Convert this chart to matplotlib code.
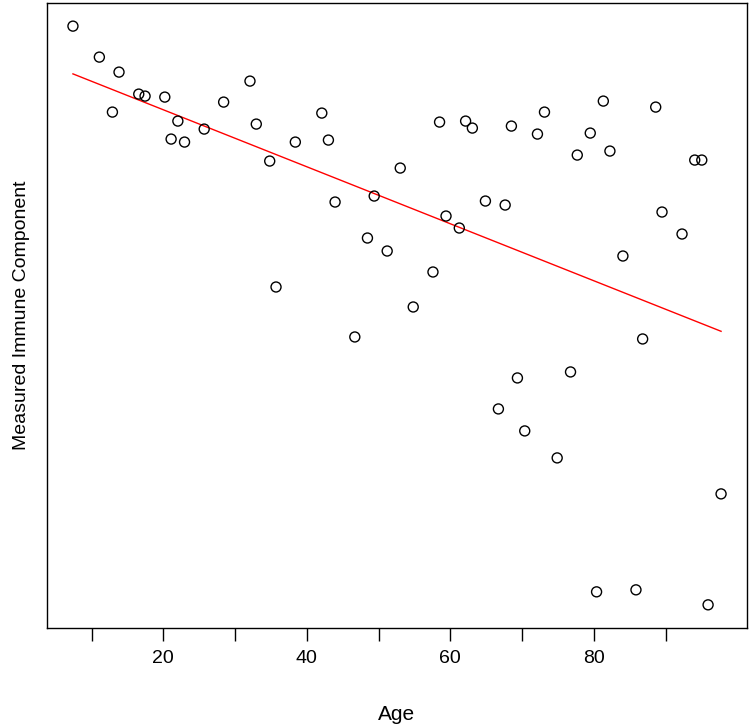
import numpy as np
import matplotlib
matplotlib.use('Agg')
import matplotlib.pyplot as plt
from matplotlib import font_manager

# data (y has no scale shown, arbitrary units)
age = [7.41, 11.09, 13.83, 12.91, 16.58, 17.46, 20.21, 22.03, 21.09, 22.96,
       25.70, 28.41, 32.08, 32.96, 34.83, 35.71, 38.40, 42.09, 43.01, 43.94,
       49.39, 48.45, 51.20, 53.02, 54.83, 57.58, 58.50, 59.40, 61.25, 62.13,
       63.07, 64.89, 67.64, 68.51, 73.12, 72.14, 81.32, 79.50, 77.69, 82.24,
       88.62, 94.06, 95.04, 89.50, 92.29, 84.05, 46.69, 66.70, 69.35, 76.75,
       86.80, 70.37, 74.89, 97.73, 80.38, 85.87, 95.92]
immune = [6.24, 5.93, 5.78, 5.38, 5.56, 5.54, 5.53, 5.29, 5.11, 5.08,
          5.21, 5.48, 5.69, 5.26, 4.89, 3.63, 5.08, 5.37, 5.10, 4.48,
          4.54, 4.12, 3.99, 4.82, 3.43, 3.78, 5.28, 4.34, 4.22, 5.29,
          5.22, 4.49, 4.45, 5.24, 5.38, 5.16, 5.49, 5.17, 4.95, 4.99,
          5.43, 4.90, 4.90, 4.38, 4.16, 3.94, 3.13, 2.41, 2.72, 2.78,
          3.11, 2.19, 1.92, 1.56, 0.58, 0.60, 0.45]

x = np.array(age)
y = np.array(immune)

# narrow font for the x axis if there is one
names = {f.name for f in font_manager.fontManager.ttflist}
narrow = 'Liberation Sans Narrow' if 'Liberation Sans Narrow' in names else 'Liberation Sans'

fig = plt.figure(figsize=(7.5, 7.27), dpi=100)
ax = fig.add_axes([0.0627, 0.1362, 0.9333, 0.8597])

ax.scatter(x, y, s=7.2**2, facecolors='none', edgecolors='black', linewidths=1.0, zorder=3)

# regression line over the age range
slope, intercept = np.polyfit(x, y, 1)
xs = np.array([x.min(), x.max()])
ax.plot(xs, intercept + slope * xs, color='red', linewidth=1.0, zorder=2)

# R style 4% padding
def pad(v):
    r = v.max() - v.min()
    return v.min() - 0.04 * r, v.max() + 0.04 * r

ax.set_xlim(*pad(x))
ax.set_ylim(*pad(y))

ax.set_xticks([20, 40, 60, 80])
ax.set_xticks([10, 30, 50, 70, 90], minor=True)
ax.tick_params(axis='x', which='both', direction='out', length=9.5, width=1.0, pad=6)
ax.tick_params(axis='x', labelsize=14)
for lab in ax.get_xticklabels():
    lab.set_family([narrow, 'DejaVu Sans'])
ax.set_yticks([])

for s in ax.spines.values():
    s.set_linewidth(1.0)

ax.set_xlabel('Age', fontsize=15, family=[narrow, 'DejaVu Sans'], labelpad=28)
ax.set_ylabel('Measured Immune Component', fontsize=14, family=['Liberation Sans', 'DejaVu Sans'], labelpad=12)

plt.savefig('out.png', dpi=100)
